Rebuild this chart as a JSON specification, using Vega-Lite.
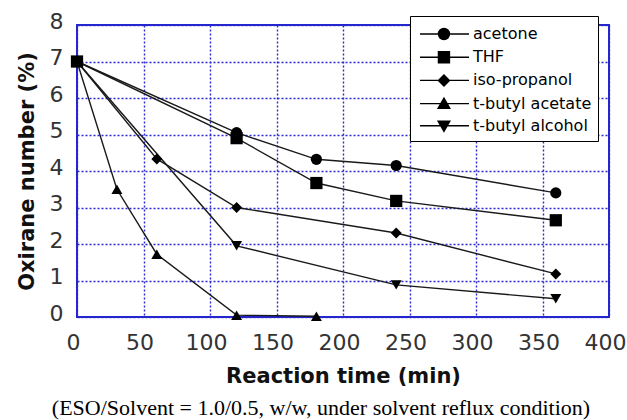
{
  "$schema": "https://vega.github.io/schema/vega-lite/v6.json",
  "width": 532,
  "height": 292,
  "autosize": {"type": "none"},
  "padding": {"left": 77, "top": 25, "right": 18, "bottom": 103},
  "background": "white",
  "title": {
    "text": "(ESO/Solvent = 1.0/0.5, w/w, under solvent reflux condition)",
    "orient": "bottom",
    "anchor": "middle",
    "frame": "bounds",
    "font": "Liberation Serif",
    "fontSize": 22,
    "fontWeight": "normal",
    "color": "black",
    "offset": 12
  },
  "config": {
    "view": {"stroke": "#2424cc", "strokeWidth": 2},
    "axis": {
      "domain": false,
      "ticks": false,
      "grid": true,
      "gridColor": "#2a2ad2",
      "gridDash": [2, 2],
      "gridWidth": 1.4,
      "gridOpacity": 1,
      "labelFont": "DejaVu Sans",
      "labelFontSize": 22,
      "labelColor": "#333333",
      "titleFont": "DejaVu Sans",
      "titleFontSize": 21,
      "titleFontWeight": "bold",
      "titleColor": "#111111"
    }
  },
  "data": {
    "values": [
      {"solvent": "acetone", "time": 0, "value": 7.0},
      {"solvent": "acetone", "time": 120, "value": 5.05},
      {"solvent": "acetone", "time": 180, "value": 4.32},
      {"solvent": "acetone", "time": 240, "value": 4.15},
      {"solvent": "acetone", "time": 360, "value": 3.4},
      {"solvent": "THF", "time": 0, "value": 7.0},
      {"solvent": "THF", "time": 120, "value": 4.9},
      {"solvent": "THF", "time": 180, "value": 3.67},
      {"solvent": "THF", "time": 240, "value": 3.18},
      {"solvent": "THF", "time": 360, "value": 2.65},
      {"solvent": "iso-propanol", "time": 0, "value": 7.0},
      {"solvent": "iso-propanol", "time": 60, "value": 4.33},
      {"solvent": "iso-propanol", "time": 120, "value": 3.0},
      {"solvent": "iso-propanol", "time": 240, "value": 2.3},
      {"solvent": "iso-propanol", "time": 360, "value": 1.18},
      {"solvent": "t-butyl acetate", "time": 0, "value": 7.0},
      {"solvent": "t-butyl acetate", "time": 30, "value": 3.5},
      {"solvent": "t-butyl acetate", "time": 60, "value": 1.72},
      {"solvent": "t-butyl acetate", "time": 120, "value": 0.05},
      {"solvent": "t-butyl acetate", "time": 180, "value": 0.02},
      {"solvent": "t-butyl alcohol", "time": 0, "value": 7.0},
      {"solvent": "t-butyl alcohol", "time": 120, "value": 1.95},
      {"solvent": "t-butyl alcohol", "time": 240, "value": 0.88},
      {"solvent": "t-butyl alcohol", "time": 360, "value": 0.5}
    ]
  },
  "encoding": {
    "x": {
      "field": "time",
      "type": "quantitative",
      "scale": {"domain": [0, 400], "nice": false},
      "axis": {"values": [0, 50, 100, 150, 200, 250, 300, 350, 400], "title": "Reaction time (min)", "labelPadding": 15, "labelOffset": -4, "titlePadding": 12, "labelFlush": false}
    },
    "y": {
      "field": "value",
      "type": "quantitative",
      "scale": {"domain": [0, 8], "nice": false},
      "axis": {"values": [0, 1, 2, 3, 4, 5, 6, 7, 8], "title": "Oxirane number (%)", "labelPadding": 14, "labelOffset": -4, "titlePadding": 12, "labelFlush": false}
    }
  },
  "layer": [
    {
      "mark": {"type": "line", "color": "#1a1a1a", "strokeWidth": 1.4},
      "encoding": {"detail": {"field": "solvent"}}
    },
    {
      "transform": [{"filter": "datum.solvent === 'acetone'"}],
      "mark": {"type": "point", "filled": true, "color": "black", "opacity": 1, "size": 125, "shape": "circle"}
    },
    {
      "transform": [{"filter": "datum.solvent === 'THF'"}],
      "mark": {"type": "point", "filled": true, "color": "black", "opacity": 1, "size": 150, "shape": "square"}
    },
    {
      "transform": [{"filter": "datum.solvent === 'iso-propanol'"}],
      "mark": {"type": "point", "filled": true, "color": "black", "opacity": 1, "size": 121, "shape": "M0,-1L1,0L0,1L-1,0Z"}
    },
    {
      "transform": [{"filter": "datum.solvent === 't-butyl acetate'"}],
      "mark": {"type": "point", "filled": true, "color": "black", "opacity": 1, "size": 120, "shape": "triangle-up"}
    },
    {
      "transform": [{"filter": "datum.solvent === 't-butyl alcohol'"}],
      "mark": {"type": "point", "filled": true, "color": "black", "opacity": 1, "size": 120, "shape": "triangle-down"}
    },
    {
      "transform": [{"filter": "datum.time < 0"}],
      "mark": {"type": "point", "filled": true, "fill": "black", "stroke": "black", "strokeWidth": 1.4, "opacity": 1, "size": 484},
      "encoding": {
        "shape": {
          "field": "solvent",
          "scale": {
            "domain": ["acetone", "THF", "iso-propanol", "t-butyl acetate", "t-butyl alcohol"],
            "range": [
              "M-0.73,0L3.73,0M0.95,0A0.5,0.5,0,1,1,1.95,0A0.5,0.5,0,1,1,0.95,0Z",
              "M-0.73,0L3.73,0M0.95,-0.5L1.95,-0.5L1.95,0.5L0.95,0.5Z",
              "M-0.73,0L3.73,0M1.45,-0.5L1.95,0L1.45,0.5L0.95,0Z",
              "M-0.73,0L3.73,0M1.45,-0.5L1.98,0.42L0.92,0.42Z",
              "M-0.73,0L3.73,0M1.45,0.5L1.98,-0.42L0.92,-0.42Z"
            ]
          },
          "legend": {
            "title": null,
            "orient": "none",
            "legendX": 333,
            "legendY": -9,
            "fillColor": "white",
            "strokeColor": "black",
            "padding": 6,
            "rowPadding": 2.2,
            "symbolSize": 484,
            "symbolStrokeWidth": 1.4,
            "labelOffset": 33,
            "labelFont": "DejaVu Sans",
            "labelFontSize": 16,
            "labelColor": "black",
            "labelLimit": 300
          }
        }
      }
    }
  ]
}
